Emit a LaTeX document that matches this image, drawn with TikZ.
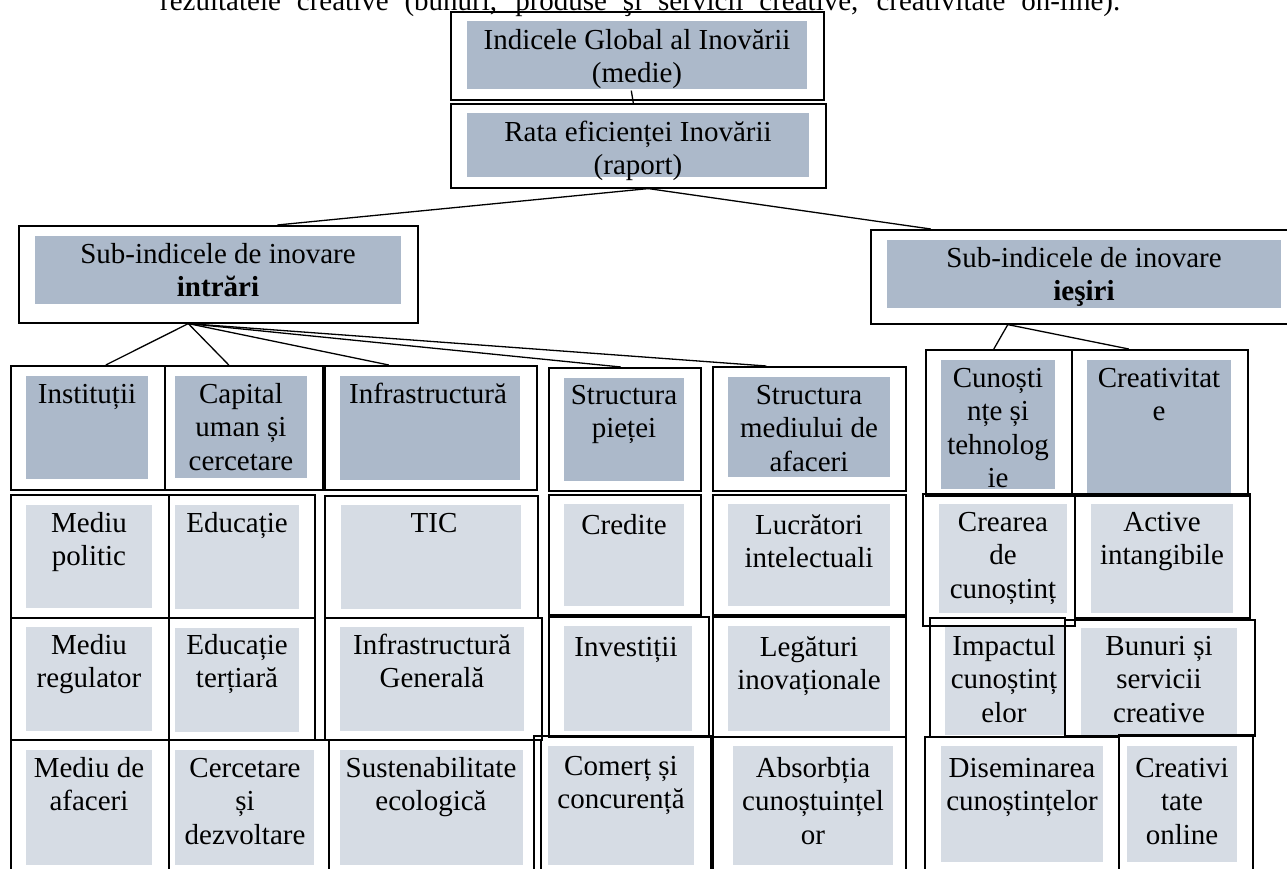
\documentclass[tikz,border=0pt]{standalone}
\usepackage{fontspec}
\setmainfont{Liberation Serif}
\usepackage{tikz}
\definecolor{hdr}{HTML}{ACB9CA}
\definecolor{cell}{HTML}{D6DCE4}
\tikzset{
  box/.style={draw, line width=1.6pt, inner sep=0pt, anchor=north west},
  lbl/.style={anchor=north, align=center, inner sep=0pt, font=\fontsize{29}{33.4}\selectfont},
  link/.style={line width=1.3pt}
}
\begin{document}
\begin{tikzpicture}[x=1pt,y=-1pt]
\useasboundingbox (0,0) rectangle (1287,869);
\clip (0,0) rectangle (1287,869);

\node[lbl, anchor=base west] (prev) at (160,11) {\makebox[960pt][s]{rezultatele creative (bunuri, produse şi servicii creative, creativitate on-line).}};

% shaded fields
\fill[hdr] (467,21) rectangle (807,89);
\fill[hdr] (467,113) rectangle (809,177);
\fill[hdr] (35,236) rectangle (401,304);
\fill[hdr] (887,240) rectangle (1281,308);

\fill[hdr] (26,376) rectangle (148,479);
\fill[hdr] (175,376) rectangle (307,478);
\fill[hdr] (340,376) rectangle (520,480);
\fill[hdr] (564,378) rectangle (684,481);
\fill[hdr] (728,377) rectangle (890,477);
\fill[hdr] (941,360) rectangle (1055,489);
\fill[hdr] (1087,360) rectangle (1231,495);

\fill[cell] (26,505) rectangle (152,608);
\fill[cell] (175,505) rectangle (299,609);
\fill[cell] (341,505) rectangle (521,609);
\fill[cell] (564,504) rectangle (684,606);
\fill[cell] (728,504) rectangle (890,606);
\fill[cell] (939,504) rectangle (1067,613);
\fill[cell] (1091,504) rectangle (1233,613);

\fill[cell] (26,627) rectangle (152,731);
\fill[cell] (175,628) rectangle (299,732);
\fill[cell] (340,627) rectangle (524,731);
\fill[cell] (564,626) rectangle (692,731);
\fill[cell] (728,626) rectangle (890,731);
\fill[cell] (945,626) rectangle (1064,735);
\fill[cell] (1081,628) rectangle (1237,735);

\fill[cell] (26,750) rectangle (152,865);
\fill[cell] (175,750) rectangle (314,865);
\fill[cell] (340,750) rectangle (523,865);
\fill[cell] (548,746) rectangle (694,865);
\fill[cell] (733,746) rectangle (893,865);
\fill[cell] (941,746) rectangle (1103,862);
\fill[cell] (1127,746) rectangle (1237,862);

% frames
\node[box, minimum width=373, minimum height=88] (glob) at (450,11) {};
\node[box, minimum width=375, minimum height=84] (rata) at (450,103) {};
\node[box, minimum width=399, minimum height=97] (intr) at (18,225) {};
\node[box, minimum width=422, minimum height=94] (iesi) at (870,229) {};

\node[box, minimum width=154, minimum height=124] (inst) at (10,365) {};
\node[box, minimum width=158, minimum height=124] (capu) at (164,365) {};
\node[box, minimum width=212, minimum height=124] (infr) at (324,365) {};
\node[box, minimum width=152, minimum height=123] (piet) at (548,367) {};
\node[box, minimum width=193, minimum height=124] (medi) at (712,366) {};
\node[box, minimum width=146, minimum height=146] (cuno) at (925,349) {};
\node[box, minimum width=176, minimum height=146] (crea) at (1071,349) {};

\node[box, minimum width=158, minimum height=123] (poli) at (10,494) {};
\node[box, minimum width=146, minimum height=123] (educ) at (168,494) {};
\node[box, minimum width=213, minimum height=122] (tic) at (324,495) {};
\node[box, minimum width=152, minimum height=120] (cred) at (548,494) {};
\node[box, minimum width=193, minimum height=120] (lucr) at (712,494) {};
\node[box, minimum width=152, minimum height=132] (crcu) at (922,493) {};
\node[box, minimum width=175, minimum height=124] (acti) at (1074,493) {};

\node[box, minimum width=158, minimum height=122] (regu) at (10,617) {};
\node[box, minimum width=146, minimum height=122] (tert) at (168,617) {};
\node[box, minimum width=217, minimum height=122] (gene) at (324,617) {};
\node[box, minimum width=160, minimum height=120] (inve) at (548,616) {};
\node[box, minimum width=193, minimum height=120] (lega) at (712,616) {};
\node[box, minimum width=135, minimum height=119] (impa) at (929,617) {};
\node[box, minimum width=190, minimum height=116] (bunu) at (1064,619) {};

\node[box, minimum width=158, minimum height=151] (afac) at (10,739) {};
\node[box, minimum width=160, minimum height=151] (cerc) at (168,739) {};
\node[box, minimum width=212, minimum height=151] (sust) at (328,739) {};
\node[box, minimum width=177, minimum height=155] (come) at (533,735) {};
\node[box, minimum width=193, minimum height=154] (abso) at (712,736) {};
\node[box, minimum width=194, minimum height=154] (dise) at (924,736) {};
\node[box, minimum width=134, minimum height=156] (crol) at (1118,734) {};

% texts
\node[lbl] (glob-t) at (637,26) {\strut Indicele Global al Inovării\\(medie)};
\node[lbl] (rata-t) at (638,118) {\strut Rata eficienței Inovării\\(raport)};
\node[lbl] (intr-t) at (218,240) {\strut Sub-indicele de inovare\\\textbf{intrări}};
\node[lbl] (iesi-t) at (1084,244) {\strut Sub-indicele de inovare\\\textbf{ieşiri}};

\node[lbl] (inst-t) at (87,380) {\strut Instituții};
\node[lbl] (capu-t) at (241,380) {\strut Capital\\uman și\\cercetare};
\node[lbl] (infr-t) at (428,380) {\strut Infrastructură};
\node[lbl] (piet-t) at (624,381) {\strut Structura\\pieței};
\node[lbl] (medi-t) at (809,381) {\strut Structura\\mediului de\\afaceri};
\node[lbl] (cuno-t) at (998,364) {\strut Cunoști\\nțe și\\tehnolog\\ie};
\node[lbl] (crea-t) at (1159,364) {\strut Creativitat\\e};

\node[lbl] (poli-t) at (89,509) {\strut Mediu\\politic};
\node[lbl] (educ-t) at (237,509) {\strut Educație};
\node[lbl] (tic-t) at (434,509) {\strut TIC};
\node[lbl] (cred-t) at (624,511) {\strut Credite};
\node[lbl] (lucr-t) at (809,511) {\strut Lucrători\\intelectuali};
\node[lbl] (crcu-t) at (1003,508) {\strut Crearea\\de\\cunoștinț};
\node[lbl] (acti-t) at (1162,508) {\strut Active\\intangibile};

\node[lbl] (regu-t) at (89,631) {\strut Mediu\\regulator};
\node[lbl] (tert-t) at (237,631) {\strut Educație\\terțiară};
\node[lbl] (gene-t) at (432,631) {\strut Infrastructură\\Generală};
\node[lbl] (inve-t) at (626,633) {\strut Investiții};
\node[lbl] (lega-t) at (809,633) {\strut Legături\\inovaționale};
\node[lbl] (impa-t) at (1004,632) {\strut Impactul\\cunoștinț\\elor};
\node[lbl] (bunu-t) at (1159,632) {\strut Bunuri și\\servicii\\creative};

\node[lbl] (afac-t) at (89,754) {\strut Mediu de\\afaceri};
\node[lbl] (cerc-t) at (245,754) {\strut Cercetare\\și\\dezvoltare};
\node[lbl] (sust-t) at (431,754) {\strut Sustenabilitate\\ecologică};
\node[lbl] (come-t) at (621,752) {\strut Comerț și\\concurență};
\node[lbl] (abso-t) at (813,754) {\strut Absorbția\\cunoștuințel\\or};
\node[lbl] (dise-t) at (1022,754) {\strut Diseminarea\\cunoștințelor};
\node[lbl] (crol-t) at (1182,754) {\strut Creativi\\tate\\online};

% connectors
\draw[link] ([xshift=-6pt,yshift=10pt]glob.south) -- ([xshift=-5pt]rata.north);
\draw[link] ([xshift=10pt]rata.south) -- ([xshift=59pt]intr.north);
\draw[link] ([xshift=10pt]rata.south) -- ([xshift=-151pt]iesi.north);

\draw[link] ([xshift=-30pt]intr.south) -- ([xshift=18pt]inst.north);
\draw[link] ([xshift=-30pt]intr.south) -- ([xshift=-15pt]capu.north);
\draw[link] ([xshift=-30pt]intr.south) -- ([xshift=-42pt]infr.north);
\draw[link] ([xshift=-30pt]intr.south) -- ([xshift=-4pt]piet.north);
\draw[link] ([xshift=-30pt]intr.south) -- ([xshift=-43pt]medi.north);

\draw[link] ([xshift=-74pt]iesi.south) -- ([xshift=-5pt]cuno.north);
\draw[link] ([xshift=-74pt]iesi.south) -- ([xshift=-31pt]crea.north);
\end{tikzpicture}
\end{document}
